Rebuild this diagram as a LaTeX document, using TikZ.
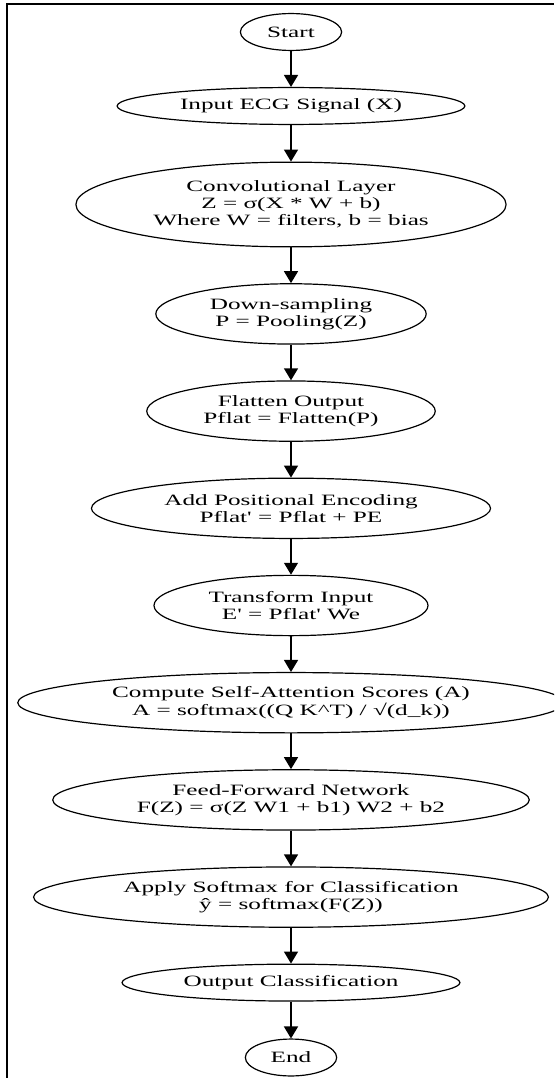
\documentclass[tikz,border=0pt]{standalone}
\usepackage{graphicx}
\usepackage{fontspec}
\newfontfamily\gvfont{Liberation Serif}[Ligatures=CommonOff]
\usetikzlibrary{shapes.geometric,arrows.meta}
\newcommand{\sx}[1]{\scalebox{1.6}[1]{#1}}
\begin{document}
\begin{tikzpicture}[x=1pt,y=-1pt,
  flownode/.style={ellipse,draw,line width=1.2pt,inner xsep=14.4pt,inner ysep=4pt,align=center,
    font=\gvfont\fontsize{15.75}{17.2}\selectfont},
  one/.style={flownode,inner xsep=12pt,minimum height=36.9pt},
  two/.style={flownode,minimum height=60.3pt},
  three/.style={flownode,minimum height=84.7pt},
  flow/.style={line width=1.4pt,-{Triangle[length=12pt,width=14pt]}},
  frame/.style={line width=2pt}]
\clip (0,0) rectangle (554,1078);
\draw[frame] (7,1078) -- (7,4) -- (554,4);

\node[one] (start) at (291,32) {\sx{Start}};
\node[one] (input) at (291,106) {\sx{Input ECG Signal (X)}};
\node[three] (conv) at (291,204.5) {\sx{Convolutional Layer}\\\sx{Z = σ(X * W + b)}\\\sx{Where W = filters, b = bias}};
\node[two] (down) at (291,313.9) {\sx{Down-sampling}\\\sx{P = Pooling(Z)}};
\node[two] (flat) at (291,411.1) {\sx{Flatten Output}\\\sx{Pflat = Flatten(P)}};
\node[two] (pos) at (291,508.3) {\sx{Add Positional Encoding}\\\sx{Pflat' = Pflat + PE}};
\node[two] (trans) at (291,605.5) {\sx{Transform Input}\\\sx{E' = Pflat' We}};
\node[two] (attn) at (291,702.7) {\sx{Compute Self-Attention Scores (A)}\\\sx{A = softmax((Q K\textasciicircum T) / √(d\_k))}};
\node[two] (ffn) at (291,799.9) {\sx{Feed-Forward Network}\\\sx{F(Z) = σ(Z W1 + b1) W2 + b2}};
\node[two] (soft) at (291,897.1) {\sx{Apply Softmax for Classification}\\\sx{ŷ = softmax(F(Z))}};
\node[one] (out) at (291,982.6) {\sx{Output Classification}};
\node[one] (end) at (291,1057.5) {\sx{End}};

\draw[flow] (start) -- (input);
\draw[flow] (input) -- (conv);
\draw[flow] (conv) -- (down);
\draw[flow] (down) -- (flat);
\draw[flow] (flat) -- (pos);
\draw[flow] (pos) -- (trans);
\draw[flow] (trans) -- (attn);
\draw[flow] (attn) -- (ffn);
\draw[flow] (ffn) -- (soft);
\draw[flow] (soft) -- (out);
\draw[flow] (out) -- (end);
\end{tikzpicture}
\end{document}
